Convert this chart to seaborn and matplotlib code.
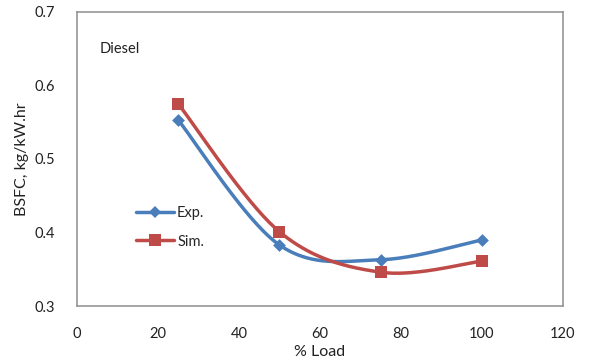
import numpy as np
import pandas as pd
import matplotlib
matplotlib.use("Agg")
import matplotlib.pyplot as plt
import seaborn as sns

load = [25, 50, 75, 100]
exp_vals = [0.553, 0.383, 0.363, 0.390]
sim_vals = [0.575, 0.401, 0.346, 0.361]
xticks = [0, 20, 40, 60, 80, 100, 120]
yticks = [0.3, 0.4, 0.5, 0.6, 0.7]

sns.set_theme(style="white")
plt.rcParams['font.family'] = ['Lato', 'DejaVu Sans']

def smooth(x, y, n=60):
    # Excel-like smoothed line: Catmull-Rom based cubic Bezier segments
    x = np.asarray(x, float); y = np.asarray(y, float)
    P = np.column_stack([x, y])
    Pe = np.vstack([P[0], P, P[-1]])
    out = []
    t = np.linspace(0, 1, n)[:, None]
    for i in range(1, len(Pe) - 2):
        p0, p1, p2, p3 = Pe[i-1], Pe[i], Pe[i+1], Pe[i+2]
        c1 = p1 + (p2 - p0) / 6
        c2 = p2 - (p3 - p1) / 6
        seg = (1-t)**3*p1 + 3*(1-t)**2*t*c1 + 3*(1-t)*t**2*c2 + t**3*p2
        out.append(seg)
    s = np.vstack(out)
    return s[:, 0], s[:, 1]

df = pd.DataFrame({"load": load * 2, "bsfc": exp_vals + sim_vals,
                   "series": ["Exp."] * 4 + ["Sim."] * 4})

fig = plt.figure(figsize=(5.9, 3.63), dpi=100)
ax = fig.add_axes([0.1305, 0.157, 0.8235, 0.81])

colors = {"Exp.": "#4A7EBB", "Sim.": "#BE4B48"}
markers = {"Exp.": "D", "Sim.": "s"}
msize = {"Exp.": 6.5, "Sim.": 8}
handles = []
for name in ["Exp.", "Sim."]:
    sub = df[df.series == name]
    sx, sy = smooth(sub.load, sub.bsfc)
    ax.plot(sx, sy, color=colors[name], lw=2.5, zorder=2)
    sns.scatterplot(x=sub.load, y=sub.bsfc, ax=ax, marker=markers[name],
                    color=colors[name], s=msize[name]**2, edgecolor=colors[name],
                    linewidth=0, zorder=3, legend=False)
    h, = ax.plot([], [], color=colors[name], lw=2.5, marker=markers[name],
                 markersize=msize[name], markeredgewidth=0, label=name)
    handles.append(h)

ax.set_xlim(0, 120)
ax.set_ylim(0.3, 0.7)
ax.set_xticks(xticks)
ax.set_yticks(yticks)
ax.set_xticklabels([str(v) for v in xticks])
ax.set_yticklabels([f"{v:.1f}" for v in yticks])
ax.tick_params(axis="both", length=0, labelsize=10.5, colors="#222222")
ax.tick_params(axis="x", pad=15)
ax.tick_params(axis="y", pad=16)
for sp in ax.spines.values():
    sp.set_color("#969696")
    sp.set_linewidth(1.2)
ax.set_xlabel("% Load", fontsize=11.5, color="#222222", labelpad=3)
ax.set_ylabel("BSFC, kg/kW.hr", fontsize=11.5, color="#222222", labelpad=4)
ax.text(0.046, 0.862, "Diesel", transform=ax.transAxes, fontsize=10.5, color="#222222")

leg = ax.legend(handles=handles, loc="upper left", bbox_to_anchor=(0.095, 0.385),
                frameon=False, fontsize=10.5, handlelength=2.6, handletextpad=0.2,
                labelspacing=1.0)

fig.savefig("out.png", dpi=100)
